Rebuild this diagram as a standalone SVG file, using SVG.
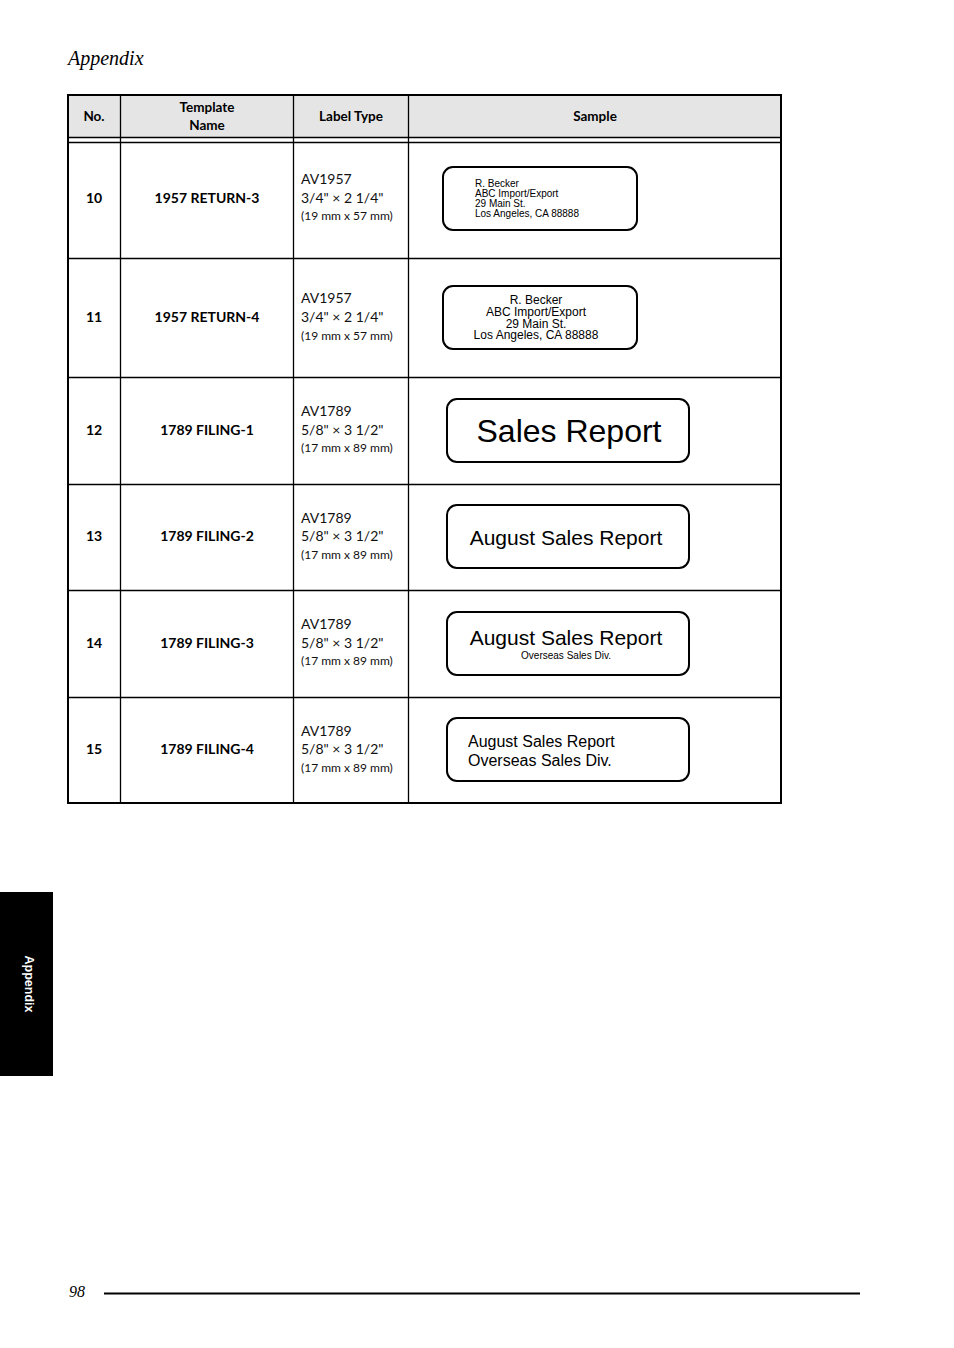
<svg xmlns="http://www.w3.org/2000/svg" width="954" height="1348" viewBox="0 0 954 1348">
<style>
.hd{font-family:Lato,"Liberation Sans",sans-serif;font-weight:bold;font-size:13.5px;fill:#000;text-anchor:middle}
.no{font-family:Lato,"Liberation Sans",sans-serif;font-weight:bold;font-size:14px;fill:#000;text-anchor:middle}
.lt{font-family:Lato,"Liberation Sans",sans-serif;font-weight:normal;font-size:14px;fill:#111}
.lts{font-family:Lato,"Liberation Sans",sans-serif;font-weight:normal;font-size:12px;fill:#111}
.lab{fill:#fff;stroke:#000;stroke-width:2}
.s{font-family:"Liberation Sans",Arial,sans-serif;fill:#000}
.grid{stroke:#000;stroke-width:1.3;fill:none}
</style>
<text x="68" y="65" font-family="Liberation Serif,serif" font-style="italic" font-size="20">Appendix</text>
<g id="table">
<rect x="68" y="95" width="713" height="43" fill="#e5e5e5"/>
<g class="grid">
<line x1="68" y1="137.5" x2="781" y2="137.5"/>
<line x1="68" y1="142.5" x2="781" y2="142.5"/>
<line x1="68" y1="258.5" x2="781" y2="258.5"/>
<line x1="68" y1="377.5" x2="781" y2="377.5"/>
<line x1="68" y1="484.5" x2="781" y2="484.5"/>
<line x1="68" y1="590.5" x2="781" y2="590.5"/>
<line x1="68" y1="697.5" x2="781" y2="697.5"/>
<line x1="120.5" y1="95" x2="120.5" y2="803"/>
<line x1="293.5" y1="95" x2="293.5" y2="803"/>
<line x1="408.5" y1="95" x2="408.5" y2="803"/>
</g>
<rect x="68" y="95" width="713" height="708" fill="none" stroke="#000" stroke-width="2"/>
</g>
<g id="header">
<text class="hd" x="94" y="121">No.</text>
<text class="hd" x="207" y="112">Template</text>
<text class="hd" x="207" y="130">Name</text>
<text class="hd" x="351" y="121">Label Type</text>
<text class="hd" x="595" y="121">Sample</text>
</g>
<g id="row10">
<text class="no" x="94" y="203">10</text>
<text class="no" x="207" y="203">1957 RETURN-3</text>
<text class="lt" x="301" y="184">AV1957</text>
<text class="lt" x="301" y="203">3/4" × 2 1/4"</text>
<text class="lts" x="301" y="220">(19 mm x 57 mm)</text>
<rect class="lab" x="443" y="167" width="194" height="63" rx="10"/>
<g class="s" font-size="10">
<text x="475" y="186.5">R. Becker</text>
<text x="475" y="196.5">ABC Import/Export</text>
<text x="475" y="206.5">29 Main St.</text>
<text x="475" y="216.5">Los Angeles, CA 88888</text>
</g>
</g>
<g id="row11">
<text class="no" x="94" y="322">11</text>
<text class="no" x="207" y="322">1957 RETURN-4</text>
<text class="lt" x="301" y="303">AV1957</text>
<text class="lt" x="301" y="322">3/4" × 2 1/4"</text>
<text class="lts" x="301" y="340">(19 mm x 57 mm)</text>
<rect class="lab" x="443" y="286" width="194" height="63" rx="10"/>
<g class="s" font-size="12" text-anchor="middle">
<text x="536" y="304">R. Becker</text>
<text x="536" y="316">ABC Import/Export</text>
<text x="536" y="327.5">29 Main St.</text>
<text x="536" y="339">Los Angeles, CA 88888</text>
</g>
</g>
<g id="row12">
<text class="no" x="94" y="435">12</text>
<text class="no" x="207" y="435">1789 FILING-1</text>
<text class="lt" x="301" y="416">AV1789</text>
<text class="lt" x="301" y="435">5/8" × 3 1/2"</text>
<text class="lts" x="301" y="452">(17 mm x 89 mm)</text>
<rect class="lab" x="447" y="399" width="242" height="63" rx="10"/>
<text class="s" x="569" y="442" font-size="32" text-anchor="middle">Sales Report</text>
</g>
<g id="row13">
<text class="no" x="94" y="541">13</text>
<text class="no" x="207" y="541">1789 FILING-2</text>
<text class="lt" x="301" y="523">AV1789</text>
<text class="lt" x="301" y="541">5/8" × 3 1/2"</text>
<text class="lts" x="301" y="559">(17 mm x 89 mm)</text>
<rect class="lab" x="447" y="505" width="242" height="63" rx="10"/>
<text class="s" x="566" y="544.5" font-size="21" text-anchor="middle">August Sales Report</text>
</g>
<g id="row14">
<text class="no" x="94" y="648">14</text>
<text class="no" x="207" y="648">1789 FILING-3</text>
<text class="lt" x="301" y="629">AV1789</text>
<text class="lt" x="301" y="648">5/8" × 3 1/2"</text>
<text class="lts" x="301" y="665">(17 mm x 89 mm)</text>
<rect class="lab" x="447" y="612" width="242" height="63" rx="10"/>
<text class="s" x="566" y="644.5" font-size="21" text-anchor="middle">August Sales Report</text>
<text class="s" x="566" y="658.5" font-size="10" text-anchor="middle">Overseas Sales Div.</text>
</g>
<g id="row15">
<text class="no" x="94" y="754">15</text>
<text class="no" x="207" y="754">1789 FILING-4</text>
<text class="lt" x="301" y="736">AV1789</text>
<text class="lt" x="301" y="754">5/8" × 3 1/2"</text>
<text class="lts" x="301" y="772">(17 mm x 89 mm)</text>
<rect class="lab" x="447" y="718" width="242" height="63" rx="10"/>
<text class="s" x="468" y="747" font-size="16">August Sales Report</text>
<text class="s" x="468" y="766" font-size="16">Overseas Sales Div.</text>
</g>
<g id="tab">
<rect x="0" y="892" width="53" height="184" fill="#000"/>
<text x="0" y="0" transform="translate(24.5 984) rotate(90)" font-family="Liberation Sans,Arial,sans-serif" font-weight="bold" font-size="12.5" fill="#fff" text-anchor="middle">Appendix</text>
</g>
<g id="footer">
<text x="69" y="1297" font-family="Liberation Serif,serif" font-style="italic" font-size="16">98</text>
<line x1="104" y1="1293.5" x2="860" y2="1293.5" stroke="#000" stroke-width="2"/>
</g>
</svg>
